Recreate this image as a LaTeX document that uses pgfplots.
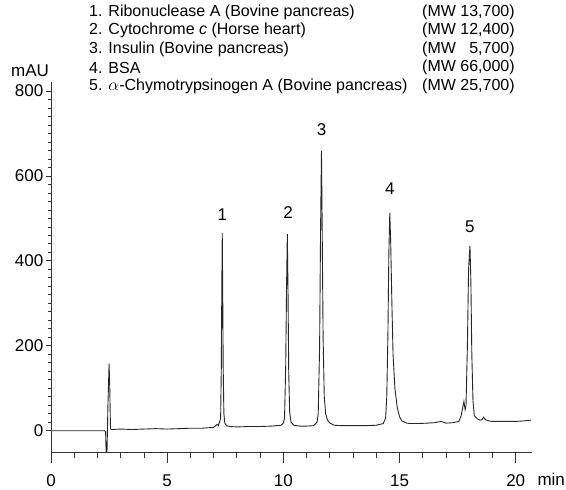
\documentclass[border=0pt]{standalone}
\usepackage{fontspec}
\setmainfont{Liberation Sans}
\usepackage{pgfplots}
\pgfplotsset{compat=1.18}
\begin{document}
\begin{tikzpicture}
\useasboundingbox (0bp,0bp) rectangle (566bp,490bp);
\begin{axis}[
  at={(51bp,38bp)}, anchor=south west,
  scale only axis, width=481bp, height=369.5bp,
  xmin=0, xmax=20.7, ymin=-50, ymax=820,
  axis x line=bottom, axis y line=left,
  axis line style={-, line width=0.8bp, black!80},
  tick align=outside,
  xtick={0,5,10,15,20}, minor x tick num=4,
  ytick={0,200,400,600,800}, minor y tick num=9,
  xtick style={/pgfplots/major tick length=11bp, /pgfplots/minor tick length=6bp, line width=0.8bp, black!80},
  ytick style={/pgfplots/major tick length=5bp, /pgfplots/minor tick length=3bp, line width=0.8bp, black!80},
  /pgf/number format/assume math mode=true,
  tick label style={font=\fontsize{17bp}{17bp}\selectfont},
  xticklabel style={yshift=-15bp},
  clip=true,
]
\addplot[line width=0.9bp, black!85] coordinates {
(0,0) (1.0,0) (2.0,0) (2.30,0) (2.35,-2) (2.37,-50) (2.41,-50) (2.45,60) (2.50,158) (2.53,100) (2.56,5) (2.60,3)
(3.0,4) (3.5,3) (4.0,4) (4.5,5) (5.0,4) (5.5,5) (6.0,6) (6.5,6) (7.0,8) (7.15,15) (7.2,12) (7.25,20)
(7.30,30) (7.33,150) (7.35,330) (7.37,466) (7.39,330) (7.41,150) (7.44,40) (7.48,18) (7.55,12) (7.7,10)
(8.0,9) (8.5,10) (9.0,10) (9.5,11) (9.9,13) (10.0,18)
(10.05,30) (10.10,150) (10.14,350) (10.17,463) (10.20,330) (10.23,140) (10.27,45) (10.33,20) (10.45,13)
(10.7,11) (11.0,11) (11.3,12) (11.45,20)
(11.50,40) (11.56,200) (11.60,470) (11.64,659) (11.67,480) (11.71,220) (11.76,80) (11.82,40) (11.9,25) (12.0,18) (12.2,13)
(12.5,12) (13.0,12) (13.5,12) (14.0,13) (14.3,17) (14.4,30)
(14.45,80) (14.50,230) (14.54,420) (14.58,513) (14.62,440) (14.67,300) (14.72,180) (14.80,100) (14.90,55) (15.0,33) (15.1,23) (15.3,18) (15.5,17)
(15.8,17) (16.2,18) (16.5,19) (16.8,22) (17.0,18) (17.3,19) (17.55,22) (17.65,35)
(17.72,55) (17.77,69) (17.82,50) (17.86,60) (17.92,200) (17.97,380) (18.03,435) (18.07,350) (18.11,180) (18.16,70) (18.22,35) (18.35,28) (18.45,25) (18.55,26) (18.62,32) (18.7,26) (18.85,23)
(19.0,22) (19.5,22) (20.0,22) (20.3,23) (20.65,25)
};
\node[font=\fontsize{17bp}{17bp}\selectfont] at (axis cs:7.37,510) {1};
\node[font=\fontsize{17bp}{17bp}\selectfont] at (axis cs:10.2,514) {2};
\node[font=\fontsize{17bp}{17bp}\selectfont] at (axis cs:11.64,708) {3};
\node[font=\fontsize{17bp}{17bp}\selectfont] at (axis cs:14.58,570) {4};
\node[font=\fontsize{17bp}{17bp}\selectfont] at (axis cs:18.03,480) {5};
\end{axis}
\node[font=\fontsize{17bp}{17bp}\selectfont] at (30bp,419bp) {mAU};
\node[font=\fontsize{17bp}{17bp}\selectfont, anchor=west] at (534bp,11bp) {min};
\begin{scope}[every node/.style={anchor=west, inner sep=0pt, font=\fontsize{16bp}{16bp}\selectfont}]
\node at (89bp,478bp) {1. Ribonuclease A (Bovine pancreas)};
\node at (89bp,459.5bp) {2. Cytochrome \textit{c} (Horse heart)};
\node at (89bp,441bp) {3. Insulin (Bovine pancreas)};
\node at (89bp,422.5bp) {4. BSA};
\node at (89bp,404bp) {5. $\alpha$-Chymotrypsinogen A (Bovine pancreas)};
\node at (422bp,478bp) {(MW 13,700)};
\node at (422bp,459.5bp) {(MW 12,400)};
\node at (422bp,441bp) {(MW \phantom{1}5,700)};
\node at (422bp,422.5bp) {(MW 66,000)};
\node at (422bp,404bp) {(MW 25,700)};
\end{scope}
\end{tikzpicture}
\end{document}
